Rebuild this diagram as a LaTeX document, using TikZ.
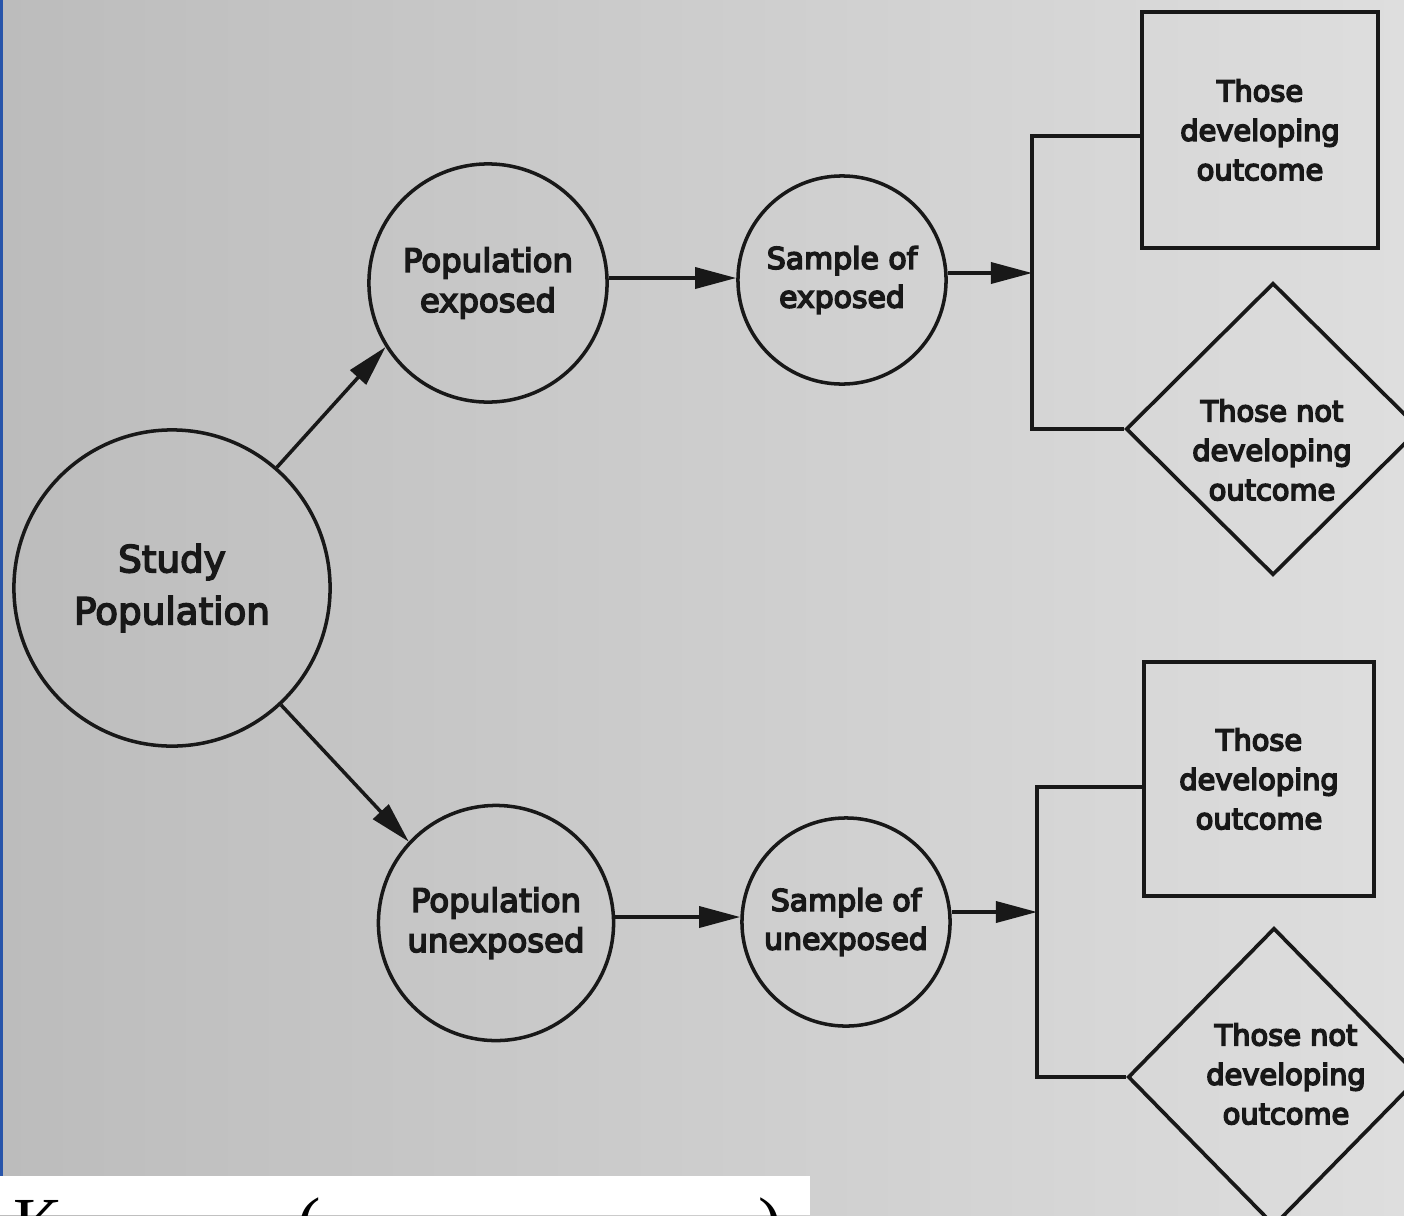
\documentclass[tikz,border=0pt]{standalone}
\usepackage{fontspec}
\setmainfont{DejaVu Sans}
\newfontfamily\labfont{DejaVu Sans}
\newfontfamily\cyrfont{Liberation Serif}
\usetikzlibrary{arrows.meta,shapes.geometric,calc}
\definecolor{ink}{RGB}{24,24,24}
\definecolor{bgL}{RGB}{188,188,188}
\definecolor{bgR}{RGB}{222,222,222}
\definecolor{edgeblue}{RGB}{40,85,170}
\newcommand{\heavyon}{\special{pdf:literal direct 2 Tr 0.45 w}}
\newcommand{\heavyoff}{\special{pdf:literal direct 0 Tr}}
\begin{document}
\begin{tikzpicture}[x=0.01cm,y=-0.01cm,
  every node/.style={text=ink},
  heavy/.style={execute at begin node=\heavyon, execute at end node=\heavyoff},
  bubble/.style={circle, draw=ink, line width=1pt, inner sep=0pt, align=center, heavy},
  outbox/.style={rectangle, draw=ink, line width=1.15pt, inner sep=0pt, align=center, heavy,
                 font={\labfont\fontsize{8.2}{11.2}\selectfont}},
  outdia/.style={diamond, draw=ink, line width=1.05pt, inner sep=0pt},
  dialab/.style={align=center, inner sep=0pt, heavy, font={\labfont\fontsize{8.2}{11.2}\selectfont}},
  popfont/.style={font={\labfont\fontsize{9.2}{11.4}\selectfont}},
  smpfont/.style={font={\labfont\fontsize{8.5}{11}\selectfont}},
  cyr/.style={font={\cyrfont\fontsize{20}{20}\selectfont}, inner sep=0pt, text=black},
  conn/.style={draw=ink, line width=1pt},
  arr/.style={conn, -{Triangle[length=0.41cm,width=0.21cm]}},
]
\useasboundingbox (0,0) rectangle (1404,1215);
\begin{scope}
\clip (0,0) rectangle (1404,1215);
\shade[left color=bgL, right color=bgR] (0,0) rectangle (1404,1215);
\fill[white] (0,1176) rectangle (810,1215);
\fill[edgeblue] (0,0) rectangle (3,1176);

% circles
\node[bubble, minimum size=3.16cm, font={\labfont\fontsize{10.6}{14.8}\selectfont}] (sp) at (172,588) {Study\\Population};
\node[bubble, popfont, minimum size=2.38cm] (pe) at (488,283) {Population\\exposed};
\node[bubble, smpfont, minimum size=2.08cm] (se) at (842,280) {Sample of\\exposed};
\node[bubble, popfont, minimum size=2.35cm] (pu) at (496,923) {Population\\unexposed};
\node[bubble, smpfont, minimum size=2.08cm] (su) at (846,922) {Sample of\\unexposed};

% outcome shapes
\node[outbox, minimum width=2.35cm, minimum height=2.36cm] (tb) at (1260,130) {Those\\developing\\outcome};
\node[outdia, minimum width=2.94cm, minimum height=2.92cm] (td) at (1273,429) {};
\node[dialab] (tdl) at (1272,450) {Those not\\developing\\outcome};
\node[outbox, minimum width=2.29cm, minimum height=2.34cm] (bb) at (1259,779) {Those\\developing\\outcome};
\node[outdia, minimum width=2.92cm, minimum height=2.98cm] (bd) at (1274,1077) {};
\node[dialab] (bdl) at (1286,1074) {Those not\\developing\\outcome};

% brackets
\coordinate (b1) at (1032,273);
\coordinate (b2) at (1037,912);
\coordinate (h1) at (0,278);
\coordinate (h2) at (0,917);
\draw[conn] ([yshift=-0.06cm]tb.west) -| (b1) |- (td.west);
\draw[conn] ([yshift=-0.08cm]bb.west) -| (b2) |- (bd.west);

% arrows
\draw[arr] (sp.49) -- (pe.212);
\draw[arr] (sp.-47) -- (pu.137);
\draw[arr] (pe.east |- h1) -- (se.west |- h1);
\draw[arr] (pu.east |- h2) -- (su.west |- h2);
\draw[arr] (se.east |- b1) -- (b1);
\draw[arr] (su.east |- b2) -- (b2);

% cut-off caption glyphs
\node[cyr, anchor=base west] (k1) at (13,1246) {К};
\node[cyr, anchor=base] (k2) at (309,1246) {(};
\node[cyr, anchor=base] (k3) at (770,1246) {)};
\end{scope}
\end{tikzpicture}
\end{document}
